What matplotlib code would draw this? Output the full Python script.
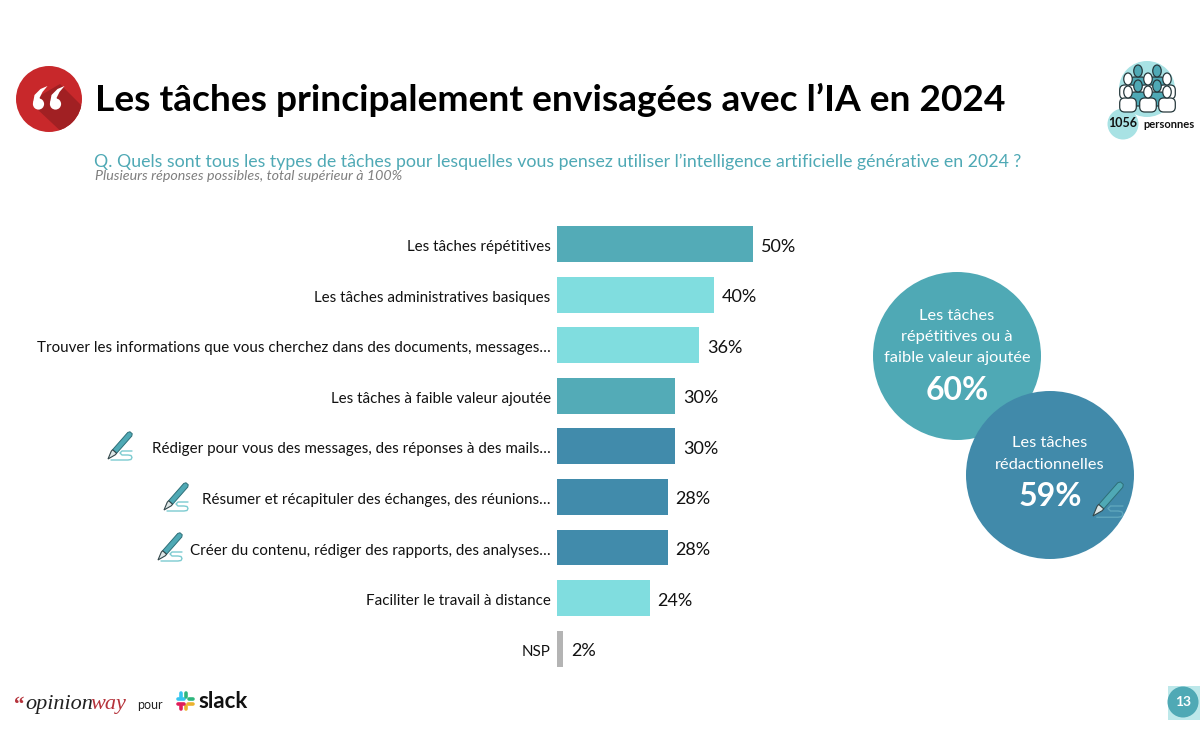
import numpy as np
import matplotlib
matplotlib.use("Agg")
import matplotlib.pyplot as plt
from matplotlib.patches import Circle, Ellipse, FancyBboxPatch, Polygon, Rectangle
from matplotlib.transforms import ScaledTranslation

# ============================================================
# Data
# ============================================================

labels = [
    "Les tâches répétitives",
    "Les tâches administratives basiques",
    "Trouver les informations que vous cherchez dans des documents, messages…",
    "Les tâches à faible valeur ajoutée",
    "Rédiger pour vous des messages, des réponses à des mails…",
    "Résumer et récapituler des échanges, des réunions…",
    "Créer du contenu, rédiger des rapports, des analyses…",
    "Faciliter le travail à distance",
    "NSP",
]
# bar lengths, printed labels next to them
values = [50, 40, 36.2, 30.2, 30.2, 28.2, 28.2, 23.6, 1.6]
value_labels = ["50%", "40%", "36%", "30%", "30%", "28%", "28%", "24%", "2%"]
kinds = ["rep", "other", "other", "rep", "red", "red", "red", "other", "nsp"]

KIND_COLORS = {"rep": "#53ABB7", "other": "#80DDDF", "red": "#418BAB", "nsp": "#B4B4B4"}

TEAL = "#4FA9B5"
BLUE = "#418AAA"
FONT = "Lato"

plt.rcParams["font.family"] = [FONT, "DejaVu Sans"]

W, H = 1200, 742
fig = plt.figure(figsize=(W / 100, H / 100), dpi=100, facecolor="white")

# overlay in pixel coordinates for the slide furniture
bg = fig.add_axes([0, 0, 1, 1])
bg.set_xlim(0, W)
bg.set_ylim(H, 0)
bg.axis("off")


def draw_pen(ax, x, y, s=1.0, squiggle="#7CCBD0", z=5):
    """Pen icon, (x, y) is the nib tip, s = 1 is about 25 px wide."""
    dx, dy = np.array([0.66, -0.75])
    nx, ny = -dy, dx
    w = 2.7

    def pt(a, b):
        return (x + dx * a * s + nx * b * s, y + dy * a * s + ny * b * s)

    ax.add_patch(Polygon([pt(10, -w), pt(33, -w), pt(35, -1.5), pt(35, 1.5), pt(33, w), pt(10, w)],
                         closed=True, fc="#4FA9B5", ec="#2E6F78", lw=0.7, zorder=z))
    ax.add_patch(Polygon([pt(0, 0), pt(8, -w), pt(10, -w), pt(10, w), pt(8, w)],
                         closed=True, fc="#DDE6E6", ec="#33474B", lw=0.8, zorder=z))
    sx = [3, 20, 23, 24, 23, 20, 14, 12, 14, 24]
    sy = [1, 1, 0.5, -1.5, -3.5, -4, -4, -6, -8, -8]
    ax.plot([x + a * s for a in sx], [y + b * s for b in sy], color=squiggle, lw=1.0,
            zorder=z - 1, solid_capstyle="round")


def draw_person(ax, x, y, fc, z):
    ax.add_patch(FancyBboxPatch((x - 8.3, y + 6), 16.6, 14, boxstyle="round,pad=0,rounding_size=5",
                                fc=fc, ec="#26383C", lw=0.9, zorder=z))
    ax.add_patch(Ellipse((x, y), 8.5, 12, fc=fc, ec="#26383C", lw=0.9, zorder=z))


# ------------------------------------------------------------
# Title block
# ------------------------------------------------------------
badge = Circle((49, 99), 33, fc="#C8282B", ec="none", zorder=2)
bg.add_patch(badge)
shadow = Polygon([(36, 98), (60, 84), (92, 116), (92, 142), (68, 138), (36, 108)], closed=True,
                 fc="#A12023", ec="none", zorder=3)
bg.add_patch(shadow)
shadow.set_clip_path(badge)
for qx in (38.5, 55.5):
    bg.add_patch(Circle((qx, 104), 5.6, fc="white", ec="none", zorder=4))
    bg.add_patch(Polygon([(qx - 5.5, 103), (qx - 4, 95), (qx + 2, 89), (qx + 9, 86), (qx + 4, 92), (qx + 1, 98), (qx + 2, 100)],
                         closed=True, fc="white", ec="none", zorder=4))

bg.text(95, 99.5, "Les tâches principalement envisagées avec l’IA en 2024", fontsize=26.7, weight="bold",
        color="black", ha="left", va="center")
bg.text(94, 161.5, "Q. Quels sont tous les types de tâches pour lesquelles vous pensez utiliser l’intelligence artificielle générative en 2024 ?",
        fontsize=12.8, color=TEAL, ha="left", va="center")
bg.text(95, 176, "Plusieurs réponses possibles, total supérieur à 100%", fontsize=10.3, style="italic",
        color="#7F7F7F", ha="left", va="center")

# ------------------------------------------------------------
# Respondents icon
# ------------------------------------------------------------
bg.add_patch(Circle((1147, 89), 28, fc="#A8E2E4", ec="none", zorder=1))
bg.add_patch(Circle((1123, 124), 15.5, fc="#A8E2E4", ec="none", zorder=1))
for px in (1138, 1157):
    draw_person(bg, px, 71, "#4FA9B5", 3)
for px in (1128, 1148, 1167):
    draw_person(bg, px, 79, "white", 4)
for px in (1138, 1157):
    draw_person(bg, px, 86, "#4FA9B5", 5)
for px in (1128, 1148, 1167):
    draw_person(bg, px, 92, "white", 6)
bg.text(1123, 123, "1056", fontsize=9, weight="bold", color="#111111", ha="center", va="center", zorder=7)
bg.text(1169, 124, "personnes", fontsize=8, weight="bold", color="#111111", ha="center", va="center", zorder=7)

# ------------------------------------------------------------
# Bars, one unit = 3.92 px
# ------------------------------------------------------------
left, width = 557, 392
top, bottom = 218.7, 674.0
ax = fig.add_axes([left / W, 1 - bottom / H, width / W, (bottom - top) / H])
ax.patch.set_alpha(0)
y_pos = np.arange(len(labels))
ax.barh(y_pos, values, height=0.71, color=[KIND_COLORS[k] for k in kinds], linewidth=0)
ax.set_xlim(0, 100)
ax.set_ylim(len(labels) - 0.5, -0.5)
ax.set_xticks([])
ax.set_yticks(y_pos)
ax.set_yticklabels(labels, fontsize=10.9, color="#111111")
ax.tick_params(axis="y", length=0, pad=4.5)
# the labels sit a little below the bar centres in the slide
label_shift = ScaledTranslation(0, -1.5 / 100, fig.dpi_scale_trans)
for tick in ax.get_yticklabels():
    tick.set_transform(tick.get_transform() + label_shift)
for side in ax.spines.values():
    side.set_visible(False)
for yp, v, lab in zip(y_pos, values, value_labels):
    ax.text(v + 2.0, yp + 0.05, lab, fontsize=13, color="#111111", ha="left", va="center")

draw_pen(bg, 108, 459)
draw_pen(bg, 164, 510)
draw_pen(bg, 158, 560)

# ------------------------------------------------------------
# Summary circles
# ------------------------------------------------------------
bg.add_patch(Circle((957, 356), 84, fc=TEAL, ec="none", zorder=6))
bg.add_patch(Circle((1050, 475), 84, fc=BLUE, ec="none", zorder=7))
for ty, line in zip((316, 337, 358), ("Les tâches", "répétitives ou à", "faible valeur ajoutée")):
    bg.text(957, ty, line, fontsize=11.8, color="white", ha="center", va="center", zorder=8)
bg.text(957, 391, "60%", fontsize=23, weight="bold", color="white", ha="center", va="center", zorder=8)
for ty, line in zip((443, 465), ("Les tâches", "rédactionnelles")):
    bg.text(1050, ty, line, fontsize=11.8, color="white", ha="center", va="center", zorder=8)
bg.text(1050, 497, "59%", fontsize=23, weight="bold", color="white", ha="center", va="center", zorder=8)
draw_pen(bg, 1093, 516, s=1.25, squiggle="#5FA6BC", z=9)

# ------------------------------------------------------------
# Footer
# ------------------------------------------------------------
bg.text(14, 706, "“", fontsize=15, family="Liberation Serif", weight="bold", color="#B5333B", ha="left", va="center")
bg.text(25, 705, "opinion", fontsize=16, family="Liberation Serif", style="italic", color="#222222", ha="left", va="center")
bg.text(90, 705, "way", fontsize=16, family="Liberation Serif", style="italic", color="#B5333B", ha="left", va="center")
bg.text(150, 705, "pour", fontsize=9, color="#222222", ha="center", va="center")

slack_parts = [
    ((178, 699), (184, 699), "#36C5F0"), ((186, 693), (186, 697), "#2EB67D"),
    ((189, 699), (193, 699), "#2EB67D"), ((188, 704), (193, 704), "#ECB22E"),
    ((186, 706), (186, 709), "#ECB22E"), ((178, 704), (184, 704), "#E01E5A"),
    ((181, 693), (181, 697), "#36C5F0"), ((181, 706), (181, 709), "#E01E5A"),
]
for p0, p1, col in slack_parts:
    bg.plot([p0[0], p1[0]], [p0[1], p1[1]], color=col, lw=2.6, solid_capstyle="round")
bg.text(198, 701, "slack", fontsize=16, weight="bold", color="#111111", ha="left", va="center")

bg.add_patch(Rectangle((1168, 686), 32, 34, fc="#BDE8EA", ec="none", zorder=1))
bg.add_patch(Circle((1183, 702), 15.5, fc=TEAL, ec="none", zorder=2))
bg.text(1183, 702, "13", fontsize=10, weight="bold", color="white", ha="center", va="center", zorder=3)

fig.savefig("out.png", dpi=100, facecolor="white")
